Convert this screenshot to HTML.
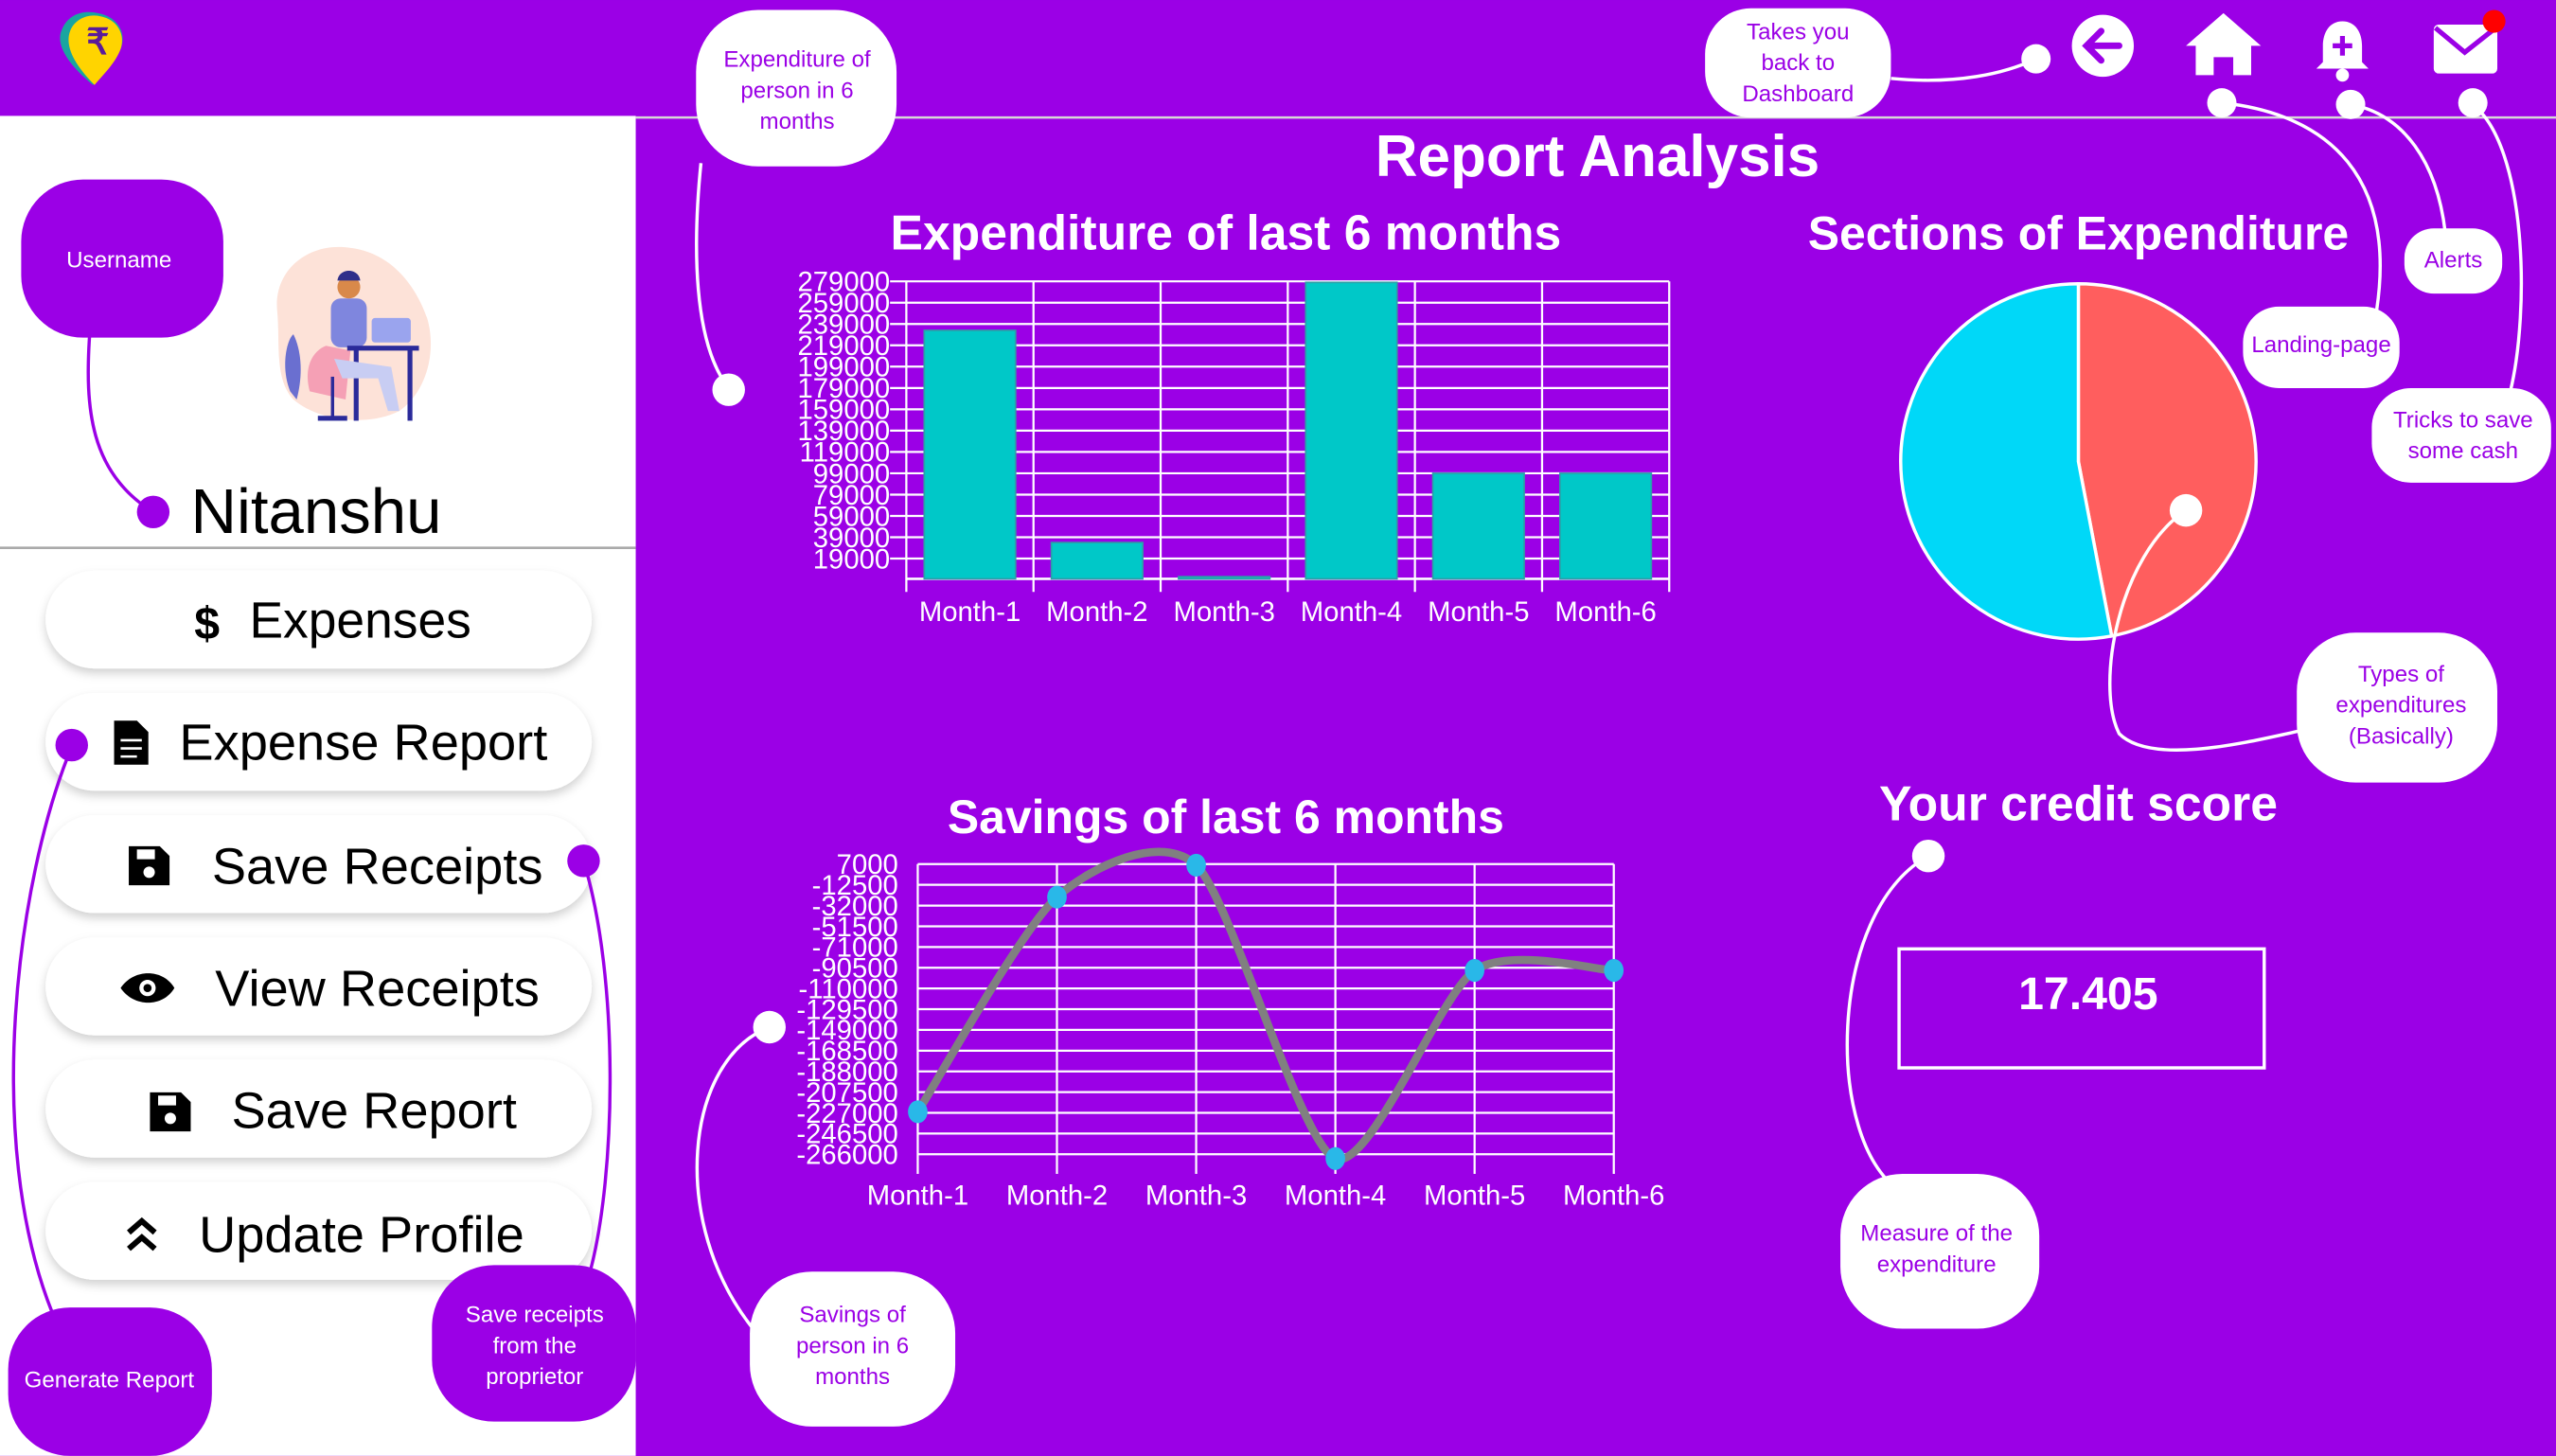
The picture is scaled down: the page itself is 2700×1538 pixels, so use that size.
<!DOCTYPE html>
<html><head><meta charset="utf-8">
<style>
html,body{margin:0;padding:0;background:#9b00e6;}
svg{display:block;font-family:"Liberation Sans",sans-serif;}
</style></head>
<body>
<svg id="root" width="2700" height="1538" viewBox="0 0 1568 893" xmlns="http://www.w3.org/2000/svg">
<defs>
<filter id="sh" x="-10%" y="-30%" width="120%" height="170%"><feDropShadow dx="0" dy="3" stdDeviation="3" flood-color="#000" flood-opacity="0.18"/></filter>
</defs>
<rect x="0" y="0" width="1568" height="893" fill="#9b00e6"/>
<rect x="0" y="71" width="390" height="822" fill="#ffffff"/>
<line x1="0" y1="336" x2="390" y2="336" stroke="#aaaaaa" stroke-width="1.5"/>
<line x1="390" y1="72" x2="1568" y2="72" stroke="#d8d8d8" stroke-width="1.5"/>
<g>
<path d="M57 52 C40 38 34 26 38 18 C42 8 52 6 60 8 C72 10 78 20 74 30 C70 38 64 44 57 52Z" fill="#1aa5a0"/>
<path d="M58 52 C44 38 40 27 43 19 C46 11 55 8 62 10 C72 12 77 21 74 30 C71 38 65 44 58 52Z" fill="#ffd400"/>
<text x="60" y="33" font-size="22" font-weight="bold" fill="#5a1a9a" text-anchor="middle">₹</text>
</g>
<g><circle cx="1290" cy="28" r="19" fill="#fff"/><path d="M1300 28 H1281 M1289 19 L1280 28 L1289 37" stroke="#9b00e6" stroke-width="4" fill="none" stroke-linecap="round"/></g>
<g><path d="M1364 8 L1341 28 H1347 V46 H1358 V35 H1370 V46 H1381 V28 H1387Z" fill="#fff"/></g>
<g><path d="M1437 13 C1429 13 1425 20 1425 28 V38 L1421 42 H1453 L1449 38 V28 C1449 20 1445 13 1437 13Z" fill="#fff"/><circle cx="1437" cy="46" r="4" fill="#fff"/><path d="M1437 22 V34 M1431 28 H1443" stroke="#9b00e6" stroke-width="3"/></g>
<g><rect x="1493" y="15" width="39" height="30" rx="3" fill="#fff"/><path d="M1494 17 L1512 32 L1531 17" stroke="#9b00e6" stroke-width="3" fill="none"/><circle cx="1530" cy="13" r="7" fill="#ff0000"/></g>
<g>
<path d="M170 190 C168 165 190 148 215 152 C240 155 255 175 262 195 C268 215 262 240 245 252 C225 262 195 258 180 245 C168 232 172 210 170 190Z" fill="#fde2d8"/>
<path d="M190 240 C186 225 192 215 200 212 L215 215 L212 245Z" fill="#f5a0b5"/>
<path d="M178 240 C172 225 176 208 180 205 C185 215 186 230 182 245Z" fill="#6a6fd0"/>
<rect x="203" y="183" width="22" height="30" rx="6" fill="#7f86de"/>
<circle cx="214" cy="176" r="7" fill="#d9894a"/>
<path d="M207 172 C208 164 220 164 221 172Z" fill="#2f2f8a"/>
<rect x="228" y="195" width="24" height="15" rx="2" fill="#9aa4ee"/>
<rect x="213" y="212" width="44" height="3" fill="#2a2a9a"/>
<rect x="217" y="214" width="3" height="44" fill="#2a2a9a"/><rect x="250" y="214" width="3" height="44" fill="#2a2a9a"/>
<path d="M205 220 L240 225 L245 252 L238 252 L232 232 L210 232Z" fill="#c8cdf3"/>
<rect x="203" y="231" width="2" height="25" fill="#2a2a9a"/><rect x="195" y="255" width="18" height="3" fill="#2a2a9a"/>
</g>
<text x="117" y="327" font-size="39" fill="#000">Nitanshu</text>
<g filter="url(#sh)"><rect x="28" y="350" width="335" height="60" rx="30" fill="#fff"/></g>
<text x="127" y="392" font-size="28" font-weight="bold" fill="#000" text-anchor="middle">$</text>
<text x="153" y="391" font-size="31" fill="#000">Expenses</text>
<g filter="url(#sh)"><rect x="28" y="425" width="335" height="60" rx="30" fill="#fff"/></g>
<path d="M70 442 H84 L91 449 V469 H70Z" fill="#000"/><path d="M74 454 H87 M74 459 H87 M74 464 H84" stroke="#fff" stroke-width="1.5"/>
<text x="110" y="466" font-size="31.5" fill="#000">Expense Report</text>
<g filter="url(#sh)"><rect x="28" y="500" width="335" height="60" rx="30" fill="#fff"/></g>
<path d="M79 519 H98 L104 525 V543 H79Z" fill="#000"/><rect x="84" y="521" width="11" height="6" fill="#fff"/><circle cx="91.5" cy="535" r="3.5" fill="#fff"/>
<text x="130" y="542" font-size="31.5" fill="#000">Save Receipts</text>
<g filter="url(#sh)"><rect x="28" y="575" width="335" height="60" rx="30" fill="#fff"/></g>
<path d="M74 606 C82 594 100 594 107 606 C100 618 82 618 74 606Z" fill="#000"/><circle cx="90.5" cy="606" r="5" fill="#fff"/><circle cx="90.5" cy="606" r="2.5" fill="#000"/>
<text x="132" y="617" font-size="31.5" fill="#000">View Receipts</text>
<g filter="url(#sh)"><rect x="28" y="650" width="335" height="60" rx="30" fill="#fff"/></g>
<path d="M92 670 H111 L117 676 V694 H92Z" fill="#000"/><rect x="97" y="672" width="11" height="6" fill="#fff"/><circle cx="104.5" cy="686" r="3.5" fill="#fff"/>
<text x="142" y="692" font-size="31.5" fill="#000">Save Report</text>
<g filter="url(#sh)"><rect x="28" y="725" width="335" height="60" rx="30" fill="#fff"/></g>
<path d="M79 756 L87 749 L95 756 M79 766 L87 759 L95 766" stroke="#000" stroke-width="3.5" fill="none"/>
<text x="122" y="768" font-size="31.5" fill="#000">Update Profile</text>

<text x="980" y="108" font-size="36" font-weight="bold" fill="#fff" text-anchor="middle">Report Analysis</text>
<text x="752" y="153" font-size="30" font-weight="bold" fill="#fff" text-anchor="middle">Expenditure of last 6 months</text>
<text x="1275" y="153" font-size="29" font-weight="bold" fill="#fff" text-anchor="middle">Sections of Expenditure</text>
<text x="752" y="511" font-size="29" font-weight="bold" fill="#fff" text-anchor="middle">Savings of last 6 months</text>
<text x="1275" y="503" font-size="30" font-weight="bold" fill="#fff" text-anchor="middle">Your credit score</text>
<rect x="1165" y="582" width="224" height="73" fill="none" stroke="#fff" stroke-width="2"/>
<text x="1281" y="619" font-size="28" font-weight="bold" fill="#fff" text-anchor="middle">17.405</text>

<g id="bar-chart"></g>
<g id="line-chart"></g>
<g id="pie-chart"></g>

<g fill="none" stroke-width="2">
<path d="M55 205 C52 250 55 290 94 314" stroke="#9b00e6"/>
<path d="M1160 48 C1200 52 1230 45 1249 36" stroke="#fff"/>
<path d="M1363 63 C1430 70 1470 110 1458 190" stroke="#fff"/>
<path d="M1442 64 C1475 70 1495 100 1500 142" stroke="#fff"/>
<path d="M1517 64 C1550 90 1552 190 1540 240" stroke="#fff"/>
<path d="M430 100 C425 150 425 210 447 238" stroke="#fff"/>
<path d="M1341 313 C1300 340 1285 420 1300 450 C1320 470 1380 455 1412 448" stroke="#fff"/>
<path d="M472 630 C420 650 410 750 462 815" stroke="#fff"/>
<path d="M1183 525 C1120 560 1120 700 1165 730" stroke="#fff"/>
<path d="M44 458 C10 540 -10 700 32 805" stroke="#9b00e6"/>
<path d="M358 528 C380 600 378 720 362 780" stroke="#9b00e6"/>
</g>
<g fill="#fff"><circle cx="1249" cy="36" r="9"/><circle cx="1363" cy="63" r="9"/><circle cx="1442" cy="64" r="9"/><circle cx="1517" cy="63" r="9"/><circle cx="447" cy="239" r="10"/><circle cx="1341" cy="313" r="10"/><circle cx="472" cy="630" r="10"/><circle cx="1183" cy="525" r="10"/></g>
<g fill="#9b00e6"><circle cx="94" cy="314" r="10"/><circle cx="44" cy="457" r="10"/><circle cx="358" cy="528" r="10"/></g>

<g font-size="14" text-anchor="middle">
<g><rect x="13" y="110" width="124" height="97" rx="38" fill="#9b00e6"/><text x="73" y="164" fill="#fff">Username</text></g>
<g><rect x="427" y="6" width="123" height="96" rx="38" fill="#fff"/><text x="489" y="41" fill="#9b00e6">Expenditure of</text><text x="489" y="60" fill="#9b00e6">person in 6</text><text x="489" y="79" fill="#9b00e6">months</text></g>
<g><rect x="1046" y="5" width="114" height="67" rx="28" fill="#fff"/><text x="1103" y="24" fill="#9b00e6">Takes you</text><text x="1103" y="43" fill="#9b00e6">back to</text><text x="1103" y="62" fill="#9b00e6">Dashboard</text></g>
<g><rect x="1475" y="140" width="60" height="40" rx="18" fill="#fff"/><text x="1505" y="164" fill="#9b00e6">Alerts</text></g>
<g><rect x="1376" y="188" width="96" height="50" rx="22" fill="#fff"/><text x="1424" y="216" fill="#9b00e6">Landing-page</text></g>
<g><rect x="1455" y="238" width="110" height="58" rx="24" fill="#fff"/><text x="1511" y="262" fill="#9b00e6">Tricks to save</text><text x="1511" y="281" fill="#9b00e6">some cash</text></g>
<g><rect x="1409" y="388" width="123" height="92" rx="36" fill="#fff"/><text x="1473" y="418" fill="#9b00e6">Types of</text><text x="1473" y="437" fill="#9b00e6">expenditures</text><text x="1473" y="456" fill="#9b00e6">(Basically)</text></g>
<g><rect x="460" y="780" width="126" height="95" rx="38" fill="#fff"/><text x="523" y="811" fill="#9b00e6">Savings of</text><text x="523" y="830" fill="#9b00e6">person in 6</text><text x="523" y="849" fill="#9b00e6">months</text></g>
<g><rect x="1129" y="720" width="122" height="95" rx="38" fill="#fff"/><text x="1188" y="761" fill="#9b00e6">Measure of the</text><text x="1188" y="780" fill="#9b00e6">expenditure</text></g>
<g><rect x="5" y="802" width="125" height="91" rx="38" fill="#9b00e6"/><text x="67" y="851" fill="#fff">Generate Report</text></g>
<g><rect x="265" y="776" width="125" height="96" rx="38" fill="#9b00e6"/><text x="328" y="811" fill="#fff">Save receipts</text><text x="328" y="830" fill="#fff">from the</text><text x="328" y="849" fill="#fff">proprietor</text></g>
</g>
</svg>
<script>
const NS='http://www.w3.org/2000/svg';
const barCategories=['Month-1','Month-2','Month-3','Month-4','Month-5','Month-6'];
const barValues=[233000,34000,2000,278000,99000,99000];
const barTicks=[19000,39000,59000,79000,99000,119000,139000,159000,179000,199000,219000,239000,259000,279000];
const lineCategories=['Month-1','Month-2','Month-3','Month-4','Month-5','Month-6'];
const lineValues=[-226000,-24000,6000,-270000,-93000,-93000];
const lineTicks=[7000,-12500,-32000,-51500,-71000,-90500,-110000,-129500,-149000,-168500,-188000,-207500,-227000,-246500,-266000];
const pieLabels=['Section-A','Section-B'];
const pieValues=[47,53];

function mk(tag,attrs,parent){const e=document.createElementNS(NS,tag);for(const k in attrs)e.setAttribute(k,attrs[k]);parent.appendChild(e);return e;}

(function(){
const g=document.getElementById('bar-chart');
const x0=556,x1=1024,yBase=355,yTop=172.5,vTop=279000;
const y=v=>yBase-(v/vTop)*(yBase-yTop);
const bw=(x1-x0)/barCategories.length;
const xc=i=>x0+bw*(i+0.5);
barTicks.forEach(t=>{
 mk('line',{x1:x0-10,x2:x1,y1:y(t),y2:y(t),stroke:'#fff','stroke-width':1.3},g);
 const tx=mk('text',{x:x0-10,y:y(t)+6,'font-size':17,fill:'#fff','text-anchor':'end'},g);tx.textContent=t;
 
 
});
for(let i=0;i<=barCategories.length;i++){mk('line',{x1:x0+bw*i,x2:x0+bw*i,y1:y(vTop),y2:yBase+8,stroke:'#fff','stroke-width':1.3},g);}
mk('line',{x1:x0,x2:x1,y1:yBase,y2:yBase,stroke:'#fff','stroke-width':1.5},g);
barCategories.forEach((c,i)=>{
 const r=mk('rect',{x:xc(i)-28,y:y(barValues[i]),width:56,height:yBase-y(barValues[i]),fill:'#00c8c8',stroke:'#2ba0a8','stroke-width':1},g);
 
 
 const t=mk('text',{x:xc(i),y:381,'font-size':17,fill:'#fff','text-anchor':'middle'},g);t.textContent=c;
 
 
});
})();

(function(){
const g=document.getElementById('line-chart');
const x0=563,x1=990,yA=530,yB=708,vA=7000,vB=-266000;
const y=v=>yA+(vA-v)/(vA-vB)*(yB-yA);
const step=(x1-x0)/(lineCategories.length-1);
const x=i=>x0+step*i;
lineTicks.forEach(t=>{
 mk('line',{x1:x0,x2:x1,y1:y(t),y2:y(t),stroke:'#fff','stroke-width':1.3},g);
 const tx=mk('text',{x:x0-12,y:y(t)+6,'font-size':17,fill:'#fff','text-anchor':'end'},g);tx.textContent=t;
 
 
});
lineCategories.forEach((c,i)=>{
 mk('line',{x1:x(i),x2:x(i),y1:yA,y2:yB+12,stroke:'#fff','stroke-width':1.3},g);
 const t=mk('text',{x:x(i),y:739,'font-size':17,fill:'#fff','text-anchor':'middle'},g);t.textContent=c;
 
 
});
const P=lineValues.map((v,i)=>[x(i),y(v)]);
let d='M'+P[0][0]+' '+P[0][1];
const k=8;
for(let i=0;i<P.length-1;i++){
 const p0=P[i-1]||P[i],p1=P[i],p2=P[i+1],p3=P[i+2]||P[i+1];
 const c1=[p1[0]+(p2[0]-p0[0])/k,p1[1]+(p2[1]-p0[1])/k];
 const c2=[p2[0]-(p3[0]-p1[0])/k,p2[1]-(p3[1]-p1[1])/k];
 d+=' C'+c1.join(' ')+' '+c2.join(' ')+' '+p2.join(' ');
}
const path=mk('path',{d:d,fill:'none',stroke:'#808080','stroke-width':5},g);


P.forEach((p,i)=>{
 const c=mk('ellipse',{cx:p[0],cy:p[1],rx:6,ry:7,fill:'#29b8e8'},g);
 
 
});
})();

(function(){
const g=document.getElementById('pie-chart');
const cx=1275,cy=283,r=109;
const colors=['#ff5e5e','#00d8f8'];
const total=pieValues.reduce((a,b)=>a+b,0);
let a=0;
pieValues.forEach((v,i)=>{
 const a2=a+v/total*2*Math.PI;
 const p1=[cx+r*Math.sin(a),cy-r*Math.cos(a)],p2=[cx+r*Math.sin(a2),cy-r*Math.cos(a2)];
 const s=mk('path',{d:`M${cx} ${cy} L${p1[0]} ${p1[1]} A${r} ${r} 0 ${a2-a>Math.PI?1:0} 1 ${p2[0]} ${p2[1]} Z`,fill:colors[i],stroke:'#fff','stroke-width':2},g);
 
 
 a=a2;
});
})();
</script>
</body></html>
